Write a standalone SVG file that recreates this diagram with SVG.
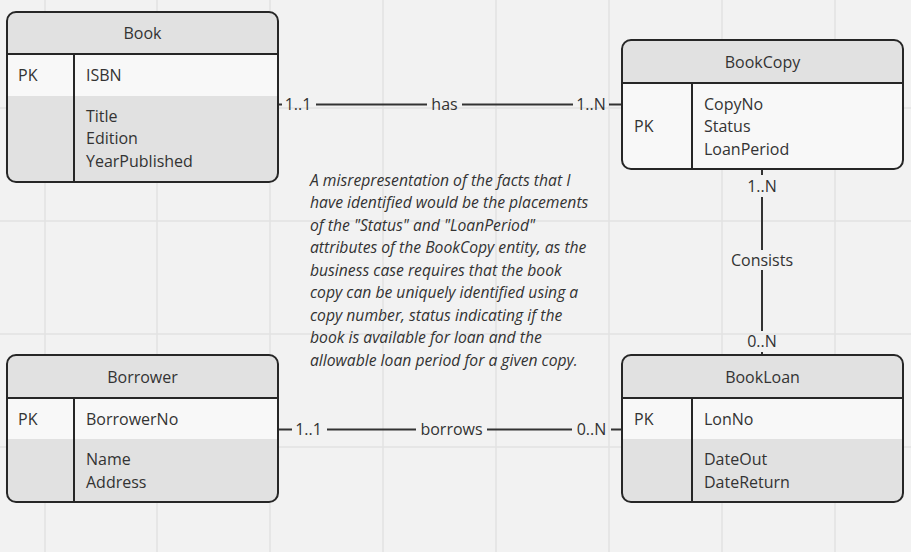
<svg xmlns="http://www.w3.org/2000/svg" width="911" height="552" viewBox="0 0 911 552">
<defs>
<style>
text{font-family:"Open Sans","Liberation Sans",sans-serif;font-size:16px;fill:#333;}
.c{text-anchor:middle;}
.grid{stroke:#e2e2e2;stroke-width:1.5;}
.frame{fill:none;stroke:#262626;stroke-width:2;}
.sep{stroke:#262626;stroke-width:2;}
.grey{fill:#e1e1e1;}
.white{fill:#f8f8f8;}
.conn{stroke:#333;stroke-width:2;fill:none;}
.note{font-style:italic;font-size:15.7px;}
</style>
</defs>
<rect x="0" y="0" width="911" height="552" fill="#f2f2f2"/>
<g id="grid">
<line class="grid" x1="45" y1="0" x2="45" y2="552"/>
<line class="grid" x1="157" y1="0" x2="157" y2="552"/>
<line class="grid" x1="270" y1="0" x2="270" y2="552"/>
<line class="grid" x1="383" y1="0" x2="383" y2="552"/>
<line class="grid" x1="496" y1="0" x2="496" y2="552"/>
<line class="grid" x1="609" y1="0" x2="609" y2="552"/>
<line class="grid" x1="722" y1="0" x2="722" y2="552"/>
<line class="grid" x1="835" y1="0" x2="835" y2="552"/>
<line class="grid" x1="0" y1="108" x2="911" y2="108"/>
<line class="grid" x1="0" y1="221" x2="911" y2="221"/>
<line class="grid" x1="0" y1="334" x2="911" y2="334"/>
<line class="grid" x1="0" y1="447" x2="911" y2="447"/>
</g>
<g id="connectors">
<g id="has">
<line class="conn" x1="278" y1="104.5" x2="282" y2="104.5"/>
<line class="conn" x1="316" y1="104.5" x2="427" y2="104.5"/>
<line class="conn" x1="462" y1="104.5" x2="573" y2="104.5"/>
<line class="conn" x1="609" y1="104.5" x2="622" y2="104.5"/>
<text class="c" x="298" y="110">1..1</text>
<text class="c" x="444.5" y="110">has</text>
<text class="c" x="591" y="110">1..N</text>
</g>
<g id="borrows">
<line class="conn" x1="278" y1="429.5" x2="292" y2="429.5"/>
<line class="conn" x1="327" y1="429.5" x2="416" y2="429.5"/>
<line class="conn" x1="487" y1="429.5" x2="572" y2="429.5"/>
<line class="conn" x1="611" y1="429.5" x2="622" y2="429.5"/>
<text class="c" x="308.5" y="435">1..1</text>
<text class="c" x="451.5" y="435">borrows</text>
<text class="c" x="591.5" y="435">0..N</text>
</g>
<g id="consists">
<line class="conn" x1="762" y1="169" x2="762" y2="175"/>
<line class="conn" x1="762" y1="197" x2="762" y2="250"/>
<line class="conn" x1="762" y1="270" x2="762" y2="331"/>
<line class="conn" x1="762" y1="352" x2="762" y2="355"/>
<text class="c" x="762" y="192">1..N</text>
<text class="c" x="762" y="265.5">Consists</text>
<text class="c" x="762" y="347">0..N</text>
</g>
</g>
<g id="Book">
<rect class="grey" x="7" y="12" width="271" height="170" rx="9"/>
<rect class="white" x="8" y="55" width="269" height="41"/>
<line class="sep" x1="7" y1="54" x2="278" y2="54"/>
<line class="sep" x1="74" y1="54" x2="74" y2="182"/>
<rect class="frame" x="7" y="12" width="271" height="170" rx="9"/>
<text class="c" x="142.5" y="39">Book</text>
<text x="18" y="81">PK</text>
<text x="86" y="81">ISBN</text>
<text x="86" y="121.5">Title</text>
<text x="86" y="144">Edition</text>
<text x="86" y="166.5">YearPublished</text>
</g>
<g id="BookCopy">
<rect class="white" x="622" y="40" width="281" height="129" rx="9"/>
<path class="grey" d="M622,83 V49 A9,9 0 0 1 631,40 H894 A9,9 0 0 1 903,49 V83 Z"/>
<line class="sep" x1="622" y1="83" x2="903" y2="83"/>
<line class="sep" x1="692" y1="83" x2="692" y2="169"/>
<rect class="frame" x="622" y="40" width="281" height="129" rx="9"/>
<text class="c" x="762.5" y="68">BookCopy</text>
<text x="634" y="132">PK</text>
<text x="704" y="109.5">CopyNo</text>
<text x="704" y="132">Status</text>
<text x="704" y="154.5">LoanPeriod</text>
</g>
<g id="Borrower">
<rect class="grey" x="7" y="355" width="271" height="147" rx="9"/>
<rect class="white" x="8" y="399" width="269" height="40"/>
<line class="sep" x1="7" y1="398" x2="278" y2="398"/>
<line class="sep" x1="74" y1="398" x2="74" y2="502"/>
<rect class="frame" x="7" y="355" width="271" height="147" rx="9"/>
<text class="c" x="142.5" y="382.5">Borrower</text>
<text x="18" y="424.5">PK</text>
<text x="86" y="424.5">BorrowerNo</text>
<text x="86" y="464.5">Name</text>
<text x="86" y="487.5">Address</text>
</g>
<g id="BookLoan">
<rect class="grey" x="622" y="355" width="281" height="147" rx="9"/>
<rect class="white" x="623" y="399" width="279" height="40"/>
<line class="sep" x1="622" y1="398" x2="903" y2="398"/>
<line class="sep" x1="692" y1="398" x2="692" y2="502"/>
<rect class="frame" x="622" y="355" width="281" height="147" rx="9"/>
<text class="c" x="762.5" y="382.5">BookLoan</text>
<text x="634" y="424.5">PK</text>
<text x="704" y="424.5">LonNo</text>
<text x="704" y="464.5">DateOut</text>
<text x="704" y="487.5">DateReturn</text>
</g>
<g id="note">
<text class="note" x="310" y="185.5">A misrepresentation of the facts that I</text>
<text class="note" x="310" y="208">have identified would be the placements</text>
<text class="note" x="310" y="230.5">of the "Status" and "LoanPeriod"</text>
<text class="note" x="310" y="253">attributes of the BookCopy entity, as the</text>
<text class="note" x="310" y="275.5">business case requires that the book</text>
<text class="note" x="310" y="298">copy can be uniquely identified using a</text>
<text class="note" x="310" y="320.5">copy number, status indicating if the</text>
<text class="note" x="310" y="343">book is available for loan and the</text>
<text class="note" x="310" y="365.5">allowable loan period for a given copy.</text>
</g>
</svg>
